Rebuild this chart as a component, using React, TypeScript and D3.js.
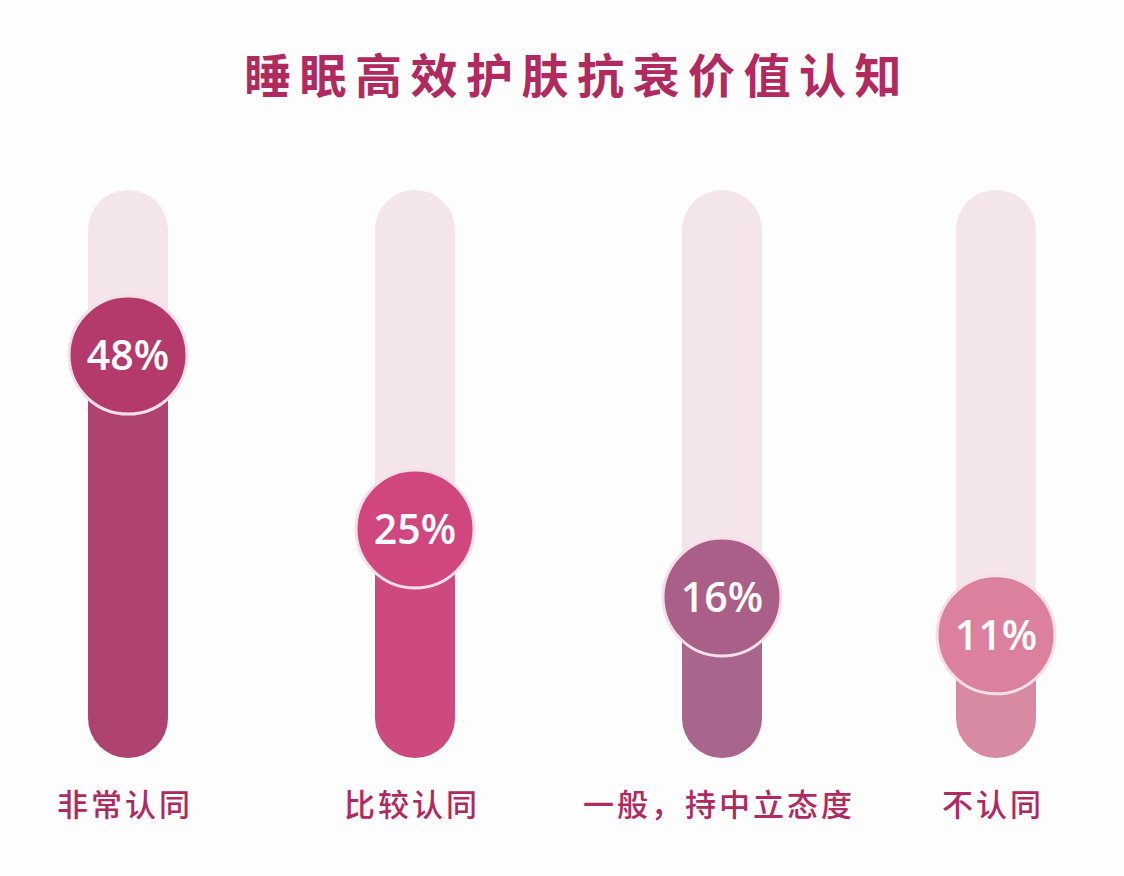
import React, { useEffect, useRef } from 'react';
import * as d3 from 'd3';

const title = '睡眠高效护肤抗衰价值认知';
const categories = ['非常认同', '比较认同', '一般，持中立态度', '不认同'];
const values = [48, 25, 16, 11];
const barColors = ['#ae4270', '#cc4a7e', '#a8668c', '#d98aa3'];
const circleColors = ['#b43a6b', '#d0467f', '#a95f88', '#db819e'];

const W = 1124;
const H = 876;

const App: React.FC = () => {
  const svgRef = useRef<SVGSVGElement | null>(null);

  useEffect(() => {
    document.body.style.margin = '0';
    const svg = d3.select(svgRef.current);
    svg.selectAll('*').remove();

    svg.append('rect').attr('width', W).attr('height', H).attr('fill', '#fefdfe');

    svg.append('text')
      .attr('x', 577)
      .attr('y', 93)
      .attr('text-anchor', 'middle')
      .attr('font-family', '"Noto Sans CJK SC", sans-serif')
      .attr('font-weight', 600)
      .attr('font-size', 47)
      .attr('letter-spacing', 8.5)
      .attr('fill', '#b02a60')
      .text(title);

    // bar centres are not evenly spaced in the source, so use a band-like lookup
    const x = d3.scaleOrdinal<string, number>()
      .domain(categories)
      .range([128, 415, 722, 996]);

    const trackTop = 190;
    const trackBottom = 758;
    const barW = 80;
    const r = barW / 2;

    const y = d3.scaleLinear().domain([0, 50]).range([trackBottom - r, 340]);

    const g = svg.append('g');
    categories.forEach((c, i) => {
      const cx = x(c);
      const cy = y(values[i]);

      g.append('rect')
        .attr('x', cx - r)
        .attr('y', trackTop)
        .attr('width', barW)
        .attr('height', trackBottom - trackTop)
        .attr('rx', r)
        .attr('fill', '#f3e5ea');

      g.append('rect')
        .attr('x', cx - r)
        .attr('y', cy)
        .attr('width', barW)
        .attr('height', trackBottom - cy)
        .attr('rx', r)
        .attr('fill', barColors[i]);

      g.append('circle')
        .attr('cx', cx)
        .attr('cy', cy)
        .attr('r', 59)
        .attr('fill', circleColors[i])
        .attr('stroke', '#f7dfe9')
        .attr('stroke-width', 3);

      g.append('text')
        .attr('x', cx)
        .attr('y', cy)
        .attr('dy', '0.36em')
        .attr('text-anchor', 'middle')
        .attr('font-family', '"Open Sans", "Noto Sans", sans-serif')
        .attr('font-weight', 600)
        .attr('font-size', 41)
        .attr('fill', '#ffffff')
        .text(`${values[i]}%`);

      g.append('text')
        .attr('x', cx - 3)
        .attr('y', 816)
        .attr('text-anchor', 'middle')
        .attr('font-family', '"Noto Sans CJK SC", sans-serif')
        .attr('font-weight', 500)
        .attr('font-size', 31)
        .attr('letter-spacing', 3)
        .attr('fill', '#b02a60')
        .text(c);
    });
  }, []);

  return <svg ref={svgRef} width={W} height={H} style={{ display: 'block' }} />;
};

export default App;
